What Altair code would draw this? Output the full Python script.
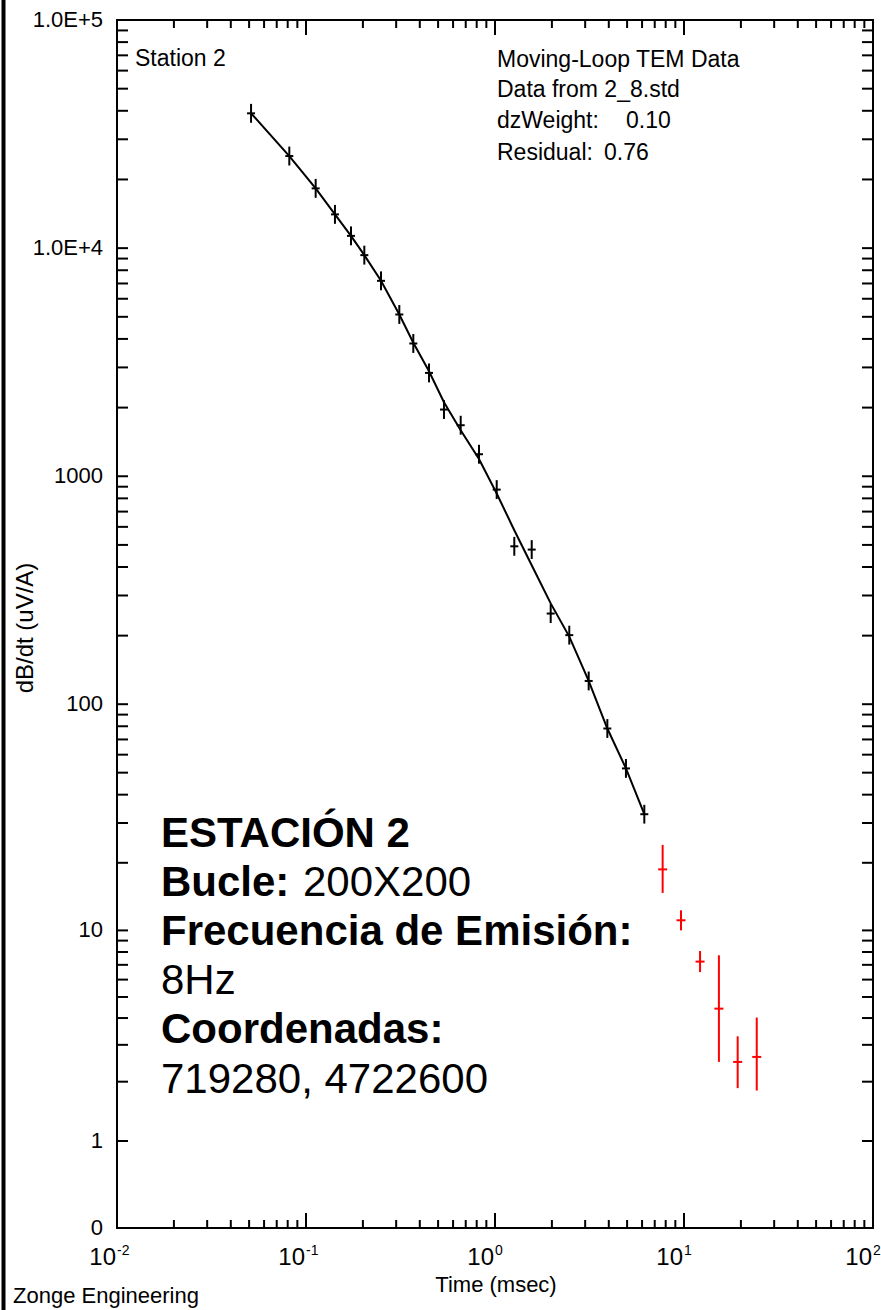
import altair as alt
import pandas as pd

# ---------------------------------------------------------------------------
# Station 2 moving-loop TEM sounding: dB/dt decay vs. gate time
# ---------------------------------------------------------------------------
black_time = [0.0512, 0.0816, 0.1125, 0.1423, 0.173, 0.2035, 0.2494, 0.3117,
              0.3696, 0.4476, 0.537, 0.6584, 0.8228, 1.021, 1.265, 1.564,
              1.971, 2.472, 3.131, 3.93, 4.93, 6.166]
black_dbdt = [38990, 25330, 18280, 14060, 11320, 9318, 7190, 5119,
              3820, 2838, 1961, 1674, 1249, 874, 493, 477,
              250, 201, 126.5, 78.2, 52.2, 32.8]
# multiplicative half-width of each gate's error bar
black_err = [1.10, 1.10, 1.10, 1.10, 1.10, 1.10, 1.10, 1.10,
             1.10, 1.10, 1.10, 1.10, 1.10, 1.10, 1.10, 1.10,
             1.10, 1.10, 1.10, 1.10, 1.10, 1.10]
# smooth model response evaluated at the same gates
model_dbdt = [38990, 25330, 18280, 14060, 11320, 9318, 7190, 5119,
              3850, 2887, 2112, 1591, 1190, 840, 580, 407,
              277, 198, 126.5, 78.2, 52.2, 32.8]

# late gates excluded from the inversion (drawn in red)
red_time = [7.71, 9.64, 12.16, 15.3, 19.23, 24.26]
red_dbdt = [18.7, 11.1, 7.24, 4.42, 2.49, 2.63]
red_low = [14.7, 10.0, 6.49, 2.49, 1.86, 1.81]
red_high = [24.0, 12.3, 8.08, 7.73, 3.29, 4.02]

# axis furniture
y_floor = 0.287  # bottom of the dB/dt axis, labelled "0"
y_label_values = [y_floor, 1, 10, 100, 1000, 10000, 100000]
y_label_texts = ["0", "1", "10", "100", "1000", "1.0E+4", "1.0E+5"]
x_decades = [0.01, 0.1, 1, 10, 100]
x_exponents = ["-2", "-1", "0", "1", "2"]

y_ticks = [m * 10 ** k for k in range(0, 5) for m in range(1, 10)] + [100000]
x_minor = [m * 10.0 ** k for k in range(-2, 2) for m in range(2, 10)]
x_major = [0.1, 1, 10]

# ---------------------------------------------------------------------------
W, H = 756, 1208
LEFT, TOP = 117, 20
RIGHT, BOTTOM = 881 - LEFT - W, 1310 - TOP - H
FONT = "Liberation Sans"

xs = alt.Scale(type="log", domain=[0.01, 100], nice=False)
ys = alt.Scale(type="symlog", constant=0.22, domain=[y_floor, 100000], nice=False, zero=False)

black = pd.DataFrame({"t": black_time, "v": black_dbdt, "e": black_err, "m": model_dbdt})
black["lo"] = black["v"] / black["e"]
black["hi"] = black["v"] * black["e"]
red = pd.DataFrame({"t": red_time, "v": red_dbdt, "lo": red_low, "hi": red_high})

X = alt.X("t:Q", scale=xs, axis=None)
Y = alt.Y("v:Q", scale=ys, axis=None)

model_line = alt.Chart(black).mark_line(color="black", strokeWidth=2).encode(
    X, alt.Y("m:Q", scale=ys, axis=None))
black_bars = alt.Chart(black).mark_rule(color="black", strokeWidth=2).encode(
    X, alt.Y("lo:Q", scale=ys, axis=None), alt.Y2("hi:Q"))
black_ticks = alt.Chart(black).mark_tick(
    color="black", orient="horizontal", size=8, thickness=2, opacity=1).encode(X, Y)

red_bars = alt.Chart(red).mark_rule(color="#ff0000", strokeWidth=2).encode(
    X, alt.Y("lo:Q", scale=ys, axis=None), alt.Y2("hi:Q"))
red_ticks = alt.Chart(red).mark_tick(
    color="#ff0000", orient="horizontal", size=9, thickness=2, opacity=1).encode(X, Y)

# inward ticks on all four sides
ytick_df = pd.DataFrame({"v": y_ticks})
YT = alt.Y("v:Q", scale=ys, axis=None)
ytick_left = alt.Chart(ytick_df).mark_rule(color="black", strokeWidth=2).encode(
    YT, x=alt.value(0), x2=alt.value(11))
ytick_right = alt.Chart(ytick_df).mark_rule(color="black", strokeWidth=2).encode(
    YT, x=alt.value(W - 11), x2=alt.value(W))

XT = alt.X("v:Q", scale=xs, axis=None)
xminor_df = pd.DataFrame({"v": x_minor})
xmajor_df = pd.DataFrame({"v": x_major})
xtick_bottom = alt.Chart(xminor_df).mark_rule(color="black", strokeWidth=2).encode(
    XT, y=alt.value(H - 8), y2=alt.value(H))
xtick_top = alt.Chart(xminor_df).mark_rule(color="black", strokeWidth=2).encode(
    XT, y=alt.value(0), y2=alt.value(8))
xmajor_bottom = alt.Chart(xmajor_df).mark_rule(color="black", strokeWidth=2).encode(
    XT, y=alt.value(H - 15), y2=alt.value(H))
xmajor_top = alt.Chart(xmajor_df).mark_rule(color="black", strokeWidth=2).encode(
    XT, y=alt.value(0), y2=alt.value(15))

# tick labels
ylabels = alt.Chart(pd.DataFrame({"v": y_label_values, "s": y_label_texts})).mark_text(
    align="right", baseline="middle", font=FONT, fontSize=22, color="black").encode(
    YT, x=alt.value(-14), text="s:N")

xlab_df = pd.DataFrame({"v": x_decades, "e": x_exponents})
xlab_base = alt.Chart(xlab_df).mark_text(
    text="10", align="right", baseline="alphabetic", font=FONT, fontSize=24,
    color="black", dx=-1).encode(XT, y=alt.value(1265 - TOP))
xlab_exp = alt.Chart(xlab_df).mark_text(
    align="left", baseline="alphabetic", font=FONT, fontSize=14,
    color="black", dx=0).encode(XT, y=alt.value(1255 - TOP), text="e:N")


def note(text, x, y, size=22, weight="normal", align="left", angle=0):
    """Free text placed in page pixels (x, y = baseline position)."""
    return alt.Chart(alt.Data(values=[{}])).mark_text(
        text=text, font=FONT, fontSize=size, fontWeight=weight, align=align,
        baseline="alphabetic", angle=angle, color="black"
    ).encode(x=alt.value(x - LEFT), y=alt.value(y - TOP))


notes = [
    note("Time (msec)", 496, 1292, size=22, align="center"),
    note("dB/dt (uV/A)", 33, 628, size=24, align="center", angle=270),
    note("Zonge Engineering", 13, 1303, size=22),
    note("Station 2", 135, 66, size=23),
    note("Moving-Loop TEM Data", 497, 67, size=23),
    note("Data from 2_8.std", 497, 97, size=23),
    note("dzWeight:", 497, 128, size=23),
    note("0.10", 626, 128, size=23),
    note("Residual:", 497, 160, size=23),
    note("0.76", 604, 160, size=23),
    note("ESTACIÓN 2", 161, 847, size=42, weight="bold"),
    note("Bucle:", 161, 896, size=42, weight="bold"),
    note("200X200", 303, 896, size=42),
    note("Frecuencia de Emisión:", 161, 945, size=42, weight="bold"),
    note("8Hz", 161, 994, size=42),
    note("Coordenadas:", 161, 1043, size=42, weight="bold"),
    note("719280, 4722600", 161, 1093, size=42),
]

page_edge = alt.Chart(alt.Data(values=[{}])).mark_rule(color="black", strokeWidth=4).encode(
    x=alt.value(3.5 - LEFT), y=alt.value(-TOP), y2=alt.value(H + BOTTOM))

chart = alt.layer(
    ytick_left, ytick_right, xtick_bottom, xtick_top, xmajor_bottom, xmajor_top,
    model_line, black_bars, black_ticks, red_bars, red_ticks,
    ylabels, xlab_base, xlab_exp, page_edge, *notes
).properties(
    width=W, height=H,
    padding={"left": LEFT, "top": TOP, "right": RIGHT, "bottom": BOTTOM},
    autosize=alt.AutoSizeParams(type="none"),
    background="white",
).configure_view(stroke="black", strokeWidth=2)

chart.save("out.html", embed_options={"renderer": "svg", "actions": False})
